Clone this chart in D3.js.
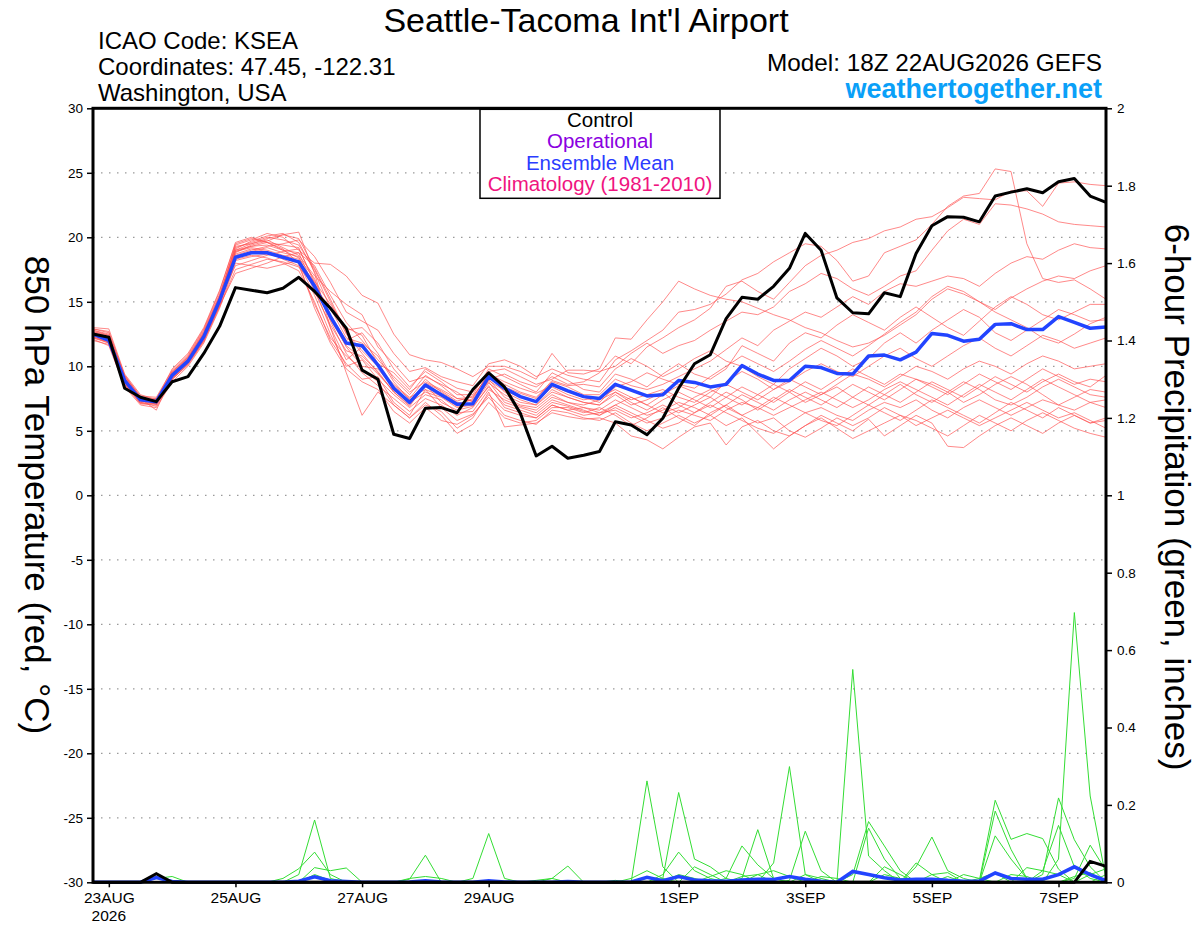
<!DOCTYPE html>
<html>
<head>
<meta charset="utf-8">
<script src="https://d3js.org/d3.v7.min.js"></script>
<style>
body { margin: 0; background: #fff; }
text { font-family: "Liberation Sans", Arial, Helvetica, sans-serif; }
</style>
</head>
<body>
<script>
// run start and 6-hourly steps
var runStart = Date.UTC(2026, 7, 22, 18);
var stepHours = 6;

// 850 hPa temperature (C), control run
var controlTemp = [12.5, 12.25, 8.3, 7.6, 7.26, 8.8, 9.2, 11.0, 13.1, 16.1, 15.9, 15.7, 16.05, 16.9,
  15.8, 14.5, 12.95, 9.7, 9.0, 4.73, 4.4, 6.75, 6.8, 6.4, 8.2, 9.5,
  8.4, 6.35, 3.05, 3.8, 2.87, 3.1, 3.4, 5.7, 5.45, 4.7, 5.97, 8.3, 10.2, 10.9, 13.7, 15.35, 15.2, 16.2, 17.6, 20.3,
  19.0, 15.3, 14.15, 14.07, 15.7, 15.4, 18.75, 20.9, 21.6, 21.55, 21.2, 23.2, 23.5, 23.76, 23.45, 24.3, 24.56, 23.2, 22.7];

// ensemble mean temperature
var meanTemp = [12.5, 12.0, 8.9, 7.4, 7.26, 9.3, 10.4, 12.3, 15.1, 18.45, 18.8, 18.8, 18.45, 18.1,
  16.2, 13.85, 11.8, 11.6, 10.1, 8.3, 7.2, 8.55, 7.8, 7.05, 7.1, 9.2,
  8.3, 7.65, 7.26, 8.6, 8.1, 7.65, 7.5, 8.6, 8.15, 7.7, 7.8, 8.9, 8.75, 8.4, 8.6, 10.05, 9.4, 8.9, 8.9, 10.0,
  9.9, 9.45, 9.4, 10.8, 10.87, 10.5, 11.1, 12.55, 12.4, 11.95, 12.1, 13.25, 13.3, 12.85, 12.85, 13.85, 13.4, 12.95, 13.05];

// ensemble members temperature
var memberTemps = [
  [12.8,12.5,9.2,7.6,7.0,9.6,10.8,12.8,15.6,19.2,19.6,20.0,19.8,19.4, 17.5,15.0,12.5,11.0,9.5,8.0,7.0,8.5,7.8,7.0,7.5,9.5,
   8.6,8.0,7.6,8.8,8.4,7.8,7.8,9.0,8.5,8.2,8.6, 9.2,9.8,10.4,11.3,12.2,11.6,12.8,13.5,14.2,
   13.8,14.6,15.4,14.8,15.8,16.4,16.2,16.6,17.0,16.8,16.2,17.2,18.0,18.5,18.3,19.0,19.5,19.2,19.1],
  [12.3,11.8,8.6,7.2,7.5,9.0,10.2,12.0,14.8,18.9,19.2,19.0,18.6,18.3, 16.0,13.0,10.5,11.5,10.0,8.5,7.5,9.0,8.0,7.2,7.0,9.0,
   7.6,7.0,6.8,7.8,7.2,6.8,6.6,7.4,6.8,6.2,6.6, 7.2,6.8,6.2,7.0,7.8,7.2,6.6,7.4,8.0,
   7.4,6.8,7.6,8.4,7.8,7.2,8.0,8.8,8.2,7.6,8.4,9.2,8.6,8.0,8.8,9.4,8.8,8.4,9.3],
  [12.6,12.2,9.0,7.4,7.2,9.4,10.5,12.4,15.3,19.4,19.8,20.3,20.0,19.0, 18.0,17.9,17.0,15.5,14.9,12.5,10.9,10.5,10.3,9.8,9.2,10.0,
   10.0,9.6,9.0,11.0,9.5,9.4,9.8,12.2,12.1,13.6,15.0, 16.6,16.0,15.5,15.2,15.0,14.5,14.0,13.6,13.0,
   12.6,12.0,11.5,11.8,12.4,13.2,14.0,15.2,16.0,15.6,15.0,14.2,13.6,13.0,12.2,11.8,12.5,13.3,13.8],
  [12.1,11.6,8.4,7.0,6.8,8.8,10.0,11.8,14.5,18.0,17.8,17.6,17.9,18.2, 16.5,14.0,12.0,12.6,11.0,9.0,7.8,9.3,8.5,7.5,7.3,8.8,
   7.2,6.8,6.4,7.4,7.0,6.6,6.2,6.8,6.2,5.6,6.0, 6.6,6.2,5.8,6.6,7.2,6.8,6.2,6.8,7.4,
   8.0,7.4,6.8,7.4,8.2,8.8,8.2,7.6,7.0,7.8,8.6,8.0,7.4,8.2,9.0,8.4,7.8,7.2,7.4],
  [13.0,12.9,9.4,7.8,7.4,9.8,11.0,13.0,15.9,19.5,19.9,19.6,19.0,18.4, 16.8,13.5,11.0,9.5,8.5,7.5,6.5,7.5,7.0,6.2,6.8,8.5,
   6.8,6.4,6.0,7.0,6.6,6.2,6.4,7.0,6.4,5.8,5.2, 5.6,6.4,7.0,6.4,5.8,5.2,4.8,5.6,6.4,
   5.8,5.4,6.2,7.0,6.4,5.8,6.6,7.4,6.8,6.2,5.6,6.4,7.2,6.6,6.0,6.8,6.2,5.6,5.8],
  [12.4,12.0,8.8,7.3,7.3,9.2,10.4,12.2,15.0,18.6,19.0,19.3,19.5,19.8, 18.5,16.5,14.2,13.5,12.8,11.0,9.6,9.9,9.2,8.8,8.5,10.2,
   10.5,10.0,9.2,9.8,9.3,9.0,8.8,10.5,11.2,12.0,12.8, 14.2,14.4,14.8,15.6,16.7,17.2,18.1,18.8,19.5,
   19.3,18.2,16.6,17.0,18.8,19.3,19.8,21.0,22.4,23.2,23.4,25.3,25.1,19.5,16.8,16.5,16.7,16.0,15.2],
  [12.7,12.3,9.1,7.5,6.6,9.3,10.6,12.6,15.4,18.8,19.4,19.7,20.2,20.4, 17.2,13.0,9.5,6.2,8.0,7.0,6.0,7.0,6.5,5.2,6.0,8.0,
   5.3,5.45,5.6,6.4,6.1,5.9,6.0,5.6,4.6,4.3,3.6, 4.5,5.3,5.6,3.9,5.3,5.8,5.0,4.6,5.4,
   6.0,5.2,4.4,5.0,5.6,6.2,5.8,5.2,4.6,5.4,6.2,5.6,5.0,5.8,6.4,5.8,5.2,4.8,4.5],
  [12.2,11.9,8.7,7.1,7.1,9.1,10.3,12.1,14.7,17.2,17.6,18.0,18.5,18.8, 17.8,15.5,13.4,12.0,10.5,9.2,8.0,8.8,8.2,7.5,7.6,9.4,
   8.8,8.3,7.9,8.5,8.0,7.6,7.2,8.4,8.8,9.5,9.0, 8.6,8.3,9.2,10.0,10.8,10.2,9.6,10.4,11.3,
   12.0,11.4,10.8,11.6,12.5,13.4,14.2,15.4,16.2,15.8,15.0,14.4,15.3,16.0,16.6,17.0,16.8,17.4,17.8],
  [12.9,12.6,9.3,7.7,7.6,9.7,10.9,12.9,15.8,19.6,20.0,19.6,19.1,18.0, 15.5,12.5,10.0,10.5,9.0,7.8,6.8,7.8,7.4,6.4,6.5,8.2,
   7.4,6.9,6.6,7.6,7.2,7.0,7.4,8.0,7.2,6.6,7.4, 8.0,7.4,6.8,7.6,8.4,7.8,7.2,8.0,8.8,
   8.2,9.0,9.8,9.2,8.6,9.4,9.0,8.4,7.8,8.6,9.4,8.8,8.2,9.0,9.8,9.2,8.6,9.0,8.8],
  [12.5,12.1,8.9,7.4,7.2,9.3,10.4,12.3,15.1,18.3,18.6,18.4,18.0,17.4, 15.0,12.0,10.2,9.0,9.2,7.2,6.2,8.2,6.8,5.8,6.3,7.6,
   6.2,5.8,5.5,6.6,6.4,6.0,5.8,6.4,5.6,5.0,5.6, 6.2,5.6,6.2,5.4,6.0,4.8,3.6,4.6,5.4,
   6.2,5.6,5.0,5.9,4.6,5.4,6.2,5.6,3.8,3.7,4.6,5.4,6.0,5.4,4.8,5.6,6.2,5.6,6.0],
  [12.3,11.9,8.8,7.2,6.9,9.0,10.1,11.9,14.6,17.5,17.9,18.3,18.1,17.7, 16.2,14.5,12.8,13.0,11.8,9.8,8.4,9.6,8.8,7.8,7.8,9.8,
   9.2,8.6,8.0,9.5,8.9,8.2,8.0,9.4,9.0,8.4,9.4, 10.2,9.4,9.0,9.8,11.6,11.0,10.4,11.8,12.6,
   12.2,13.2,14.0,13.4,12.8,13.8,14.6,13.8,13.0,12.4,13.5,14.6,15.4,14.8,14.0,13.6,14.2,14.8,14.8],
  [12.8,12.4,9.2,7.6,7.5,9.6,10.7,12.7,15.5,19.3,19.5,19.8,19.2,18.6, 17.0,15.8,14.8,14.0,11.5,10.2,8.8,9.2,8.6,8.0,7.2,9.0,
   9.4,8.8,8.4,9.2,8.6,8.8,9.5,10.8,10.2,11.5,12.2, 13.0,13.6,14.5,16.2,16.6,15.8,15.2,16.5,17.8,
   18.6,19.0,19.6,19.9,20.5,20.8,21.4,21.6,22.3,23.1,23.0,22.9,23.6,23.6,22.4,24.2,24.3,24.1,24.0],
  [12.6,12.2,9.0,7.5,7.3,9.4,10.6,12.5,15.3,19.0,19.3,19.4,19.0,18.8, 16.0,13.8,11.5,10.0,9.8,8.3,7.2,8.0,7.6,6.8,7.0,8.7,
   7.8,7.2,7.0,8.0,7.6,7.2,7.0,7.8,7.0,7.4,8.0, 7.0,6.4,7.2,8.0,7.4,6.6,7.4,8.2,7.6,
   7.0,7.8,8.6,8.0,7.4,8.2,9.0,8.6,8.0,7.2,7.8,8.6,9.2,8.6,7.8,7.0,7.6,8.2,8.0],
  [12.0,11.7,8.5,7.1,7.0,9.0,10.2,12.0,14.9,18.7,19.1,18.9,18.3,17.8, 14.8,12.2,10.8,9.8,8.8,7.0,6.0,7.2,6.2,4.8,5.5,7.2,
   6.0,5.6,5.8,6.8,6.8,6.4,6.8,6.2,5.4,6.0,6.8, 6.0,5.4,6.4,7.0,6.2,5.6,6.0,5.0,4.5,
   5.2,6.0,5.4,6.0,6.8,6.2,5.4,6.0,6.6,6.0,5.4,6.0,6.6,7.2,6.6,6.0,6.4,5.8,5.2],
  [12.7,12.4,9.1,7.5,7.4,9.5,10.7,12.6,15.4,19.1,19.7,20.1,20.3,19.6, 17.3,14.5,12.2,11.8,10.8,8.8,7.4,8.4,7.9,7.1,7.4,9.2,
   8.4,7.9,7.5,8.9,8.5,8.6,8.4,9.8,10.6,10.0,9.2, 9.8,10.6,11.2,10.4,10.0,9.2,8.6,9.8,10.6,
   11.4,10.8,10.0,10.6,11.8,12.6,11.8,12.8,13.6,14.4,13.8,12.6,12.0,12.8,13.6,14.4,14.0,13.5,13.6],
  [12.4,12.0,8.7,7.3,7.1,9.1,10.3,12.1,14.8,18.4,18.9,19.2,18.8,18.5, 15.8,13.2,11.2,10.8,9.6,8.0,6.9,8.6,7.2,6.6,6.9,8.4,
   7.0,6.6,6.2,7.2,6.9,6.5,6.2,7.0,7.6,7.0,6.4, 6.8,7.6,8.2,7.6,7.0,7.8,8.6,8.0,7.2,
   7.8,8.4,7.6,7.0,7.8,8.6,7.8,7.2,8.0,8.8,8.2,7.4,7.0,7.6,8.4,9.0,8.4,7.8,7.6],
  [12.9,12.7,9.3,7.6,7.3,9.5,10.6,12.5,15.2,17.8,18.2,18.6,18.9,19.1, 16.6,14.8,13.0,12.4,10.2,9.5,8.2,9.8,9.0,8.3,8.0,9.6,
   9.8,9.2,8.6,9.0,9.7,9.7,9.6,10.0,11.0,11.8,11.0, 11.6,12.0,12.8,13.5,14.2,14.0,14.6,15.8,16.4,
   17.2,16.8,16.0,15.5,16.2,17.0,17.4,19.0,20.5,21.4,21.0,22.6,22.5,22.2,21.8,21.2,21.0,20.9,20.8],
  [12.5,12.1,8.9,7.4,7.2,9.2,10.4,12.2,15.0,19.0,19.5,19.9,20.2,19.9, 17.6,15.2,12.6,11.2,10.0,8.6,7.6,8.2,7.7,6.9,7.1,8.9,
   8.1,7.6,7.2,8.4,7.8,7.4,7.6,8.2,7.6,7.0,7.8, 8.5,8.0,7.6,8.8,9.6,9.0,8.2,8.8,9.6,
   10.2,9.6,9.2,10.0,10.8,11.4,10.6,10.0,10.8,11.6,12.2,11.4,10.8,11.6,12.4,12.0,11.4,11.8,12.2],
  [12.2,11.8,8.6,7.2,7.1,9.0,10.2,12.0,14.7,18.2,18.5,18.7,18.4,18.0, 14.5,11.8,9.8,8.8,8.2,6.5,5.6,6.8,5.8,5.5,6.2,7.8,
   6.6,6.2,6.0,7.0,6.6,6.8,6.4,6.6,6.0,6.4,7.0, 6.4,7.0,7.6,6.8,6.2,6.8,7.6,7.0,6.4,
   6.8,6.2,5.8,6.6,7.2,6.8,7.4,6.6,6.0,6.8,7.4,6.8,6.2,6.8,7.4,7.0,6.6,7.2,6.8],
  [12.6,12.3,9.0,7.4,7.3,9.4,10.5,12.4,15.2,18.9,19.3,19.6,19.4,19.2, 16.4,13.6,11.6,10.6,9.4,8.1,7.3,8.7,8.1,7.3,7.7,9.3,
   8.0,7.4,7.0,8.2,7.6,7.2,7.0,8.0,7.4,7.8,8.2, 7.6,7.2,8.0,8.6,8.0,7.4,8.2,9.0,8.4,
   7.8,8.6,9.4,9.0,8.4,9.2,10.0,9.6,9.0,9.8,10.4,10.0,9.4,10.2,10.8,10.4,9.8,10.0,10.2]
];

// 6-hour precipitation (inches)
var controlPrecip = [0, 0,0,0,.022, 0,0,0,0, 0,0,0,0, 0,0,0,0, 0,0,0,0, 0,0,0,0, 0,0,0,0, 0,0,0,0, 0,0,0,0,
  0,0,0,0, 0,0,0,0, 0,0,0,0, 0,0,0,0, 0,0,0,0, 0,0,0,0, 0,0,.054,.041];
var meanPrecip = [0, 0,0,0,.012, .002,0,0,0, 0,0,0,0, .003,.014,.004,.002, 0,0,0,.001, .004,.001,0,0, .004,.001,0,0,
  0,.002,0,0, 0,.001,.013,.004, .015,.006,.004,.003, .006,.008,.007,.015, .008,.003,0,.028, .02,.012,.006,.008,
  .008,.005,.003,.003, .024,.01,.008,.008, .02,.04,.02,.004];
var memberPrecip = [
  [0, 0,0,0,.01, .015,0,0,0, 0,0,0,0, .02,.161,.01,0, 0,0,0,0, 0,0,0,0, 0,0,0,0, 0,0,0,0, 0,0,0,0, 0,0,0,0, 0,0,0,0, 0,0,0,.55, .068,.03,0,0, 0,0,0,0, 0,0,0,0, 0,0,0,0],
  [0, 0,0,0,0, 0,0,0,0, 0,0,0,.01, .035,.078,.02,0, 0,0,0,0, 0,0,0,0, 0,0,0,0, 0,0,0,0, 0,0,.262,.04, 0,0,0,0, 0,0,0,0, 0,0,0,0, 0,0,0,0, 0,0,0,0, 0,0,0,0, .06,.697,.223,.01],
  [0, 0,0,0,0, 0,0,0,0, 0,0,0,0, 0,.038,.03,.037, 0,0,0,0, 0,0,0,0, 0,0,0,0, 0,0,0,0, 0,0,0,.01, .232,.06,.04,.01, 0,0,0,0, 0,0,0,0, 0,0,0,0, 0,0,0,0, 0,0,0,0, 0,0,0,0],
  [0, 0,0,0,0, 0,0,0,0, 0,0,0,0, 0,.02,.005,0, 0,0,0,0, 0,0,0,.01, .126,.01,0,0, 0,0,0,0, 0,0,0,0, 0,0,0,0, 0,0,.05,.299, .02,0,0,0, 0,0,0,0, 0,0,0,0, 0,0,0,0, 0,0,0,0],
  [0, 0,0,0,0, 0,0,0,0, 0,0,0,0, 0,0,0,0, 0,0,0,.008, .07,0,0,0, 0,0,0,0, 0,0,0,0, 0,0,0,0, 0,0,0,0, 0,0,0,0, 0,0,0,0, 0,.04,.02,0, 0,0,0,.005, .212,.111,.126,.113, .034,0,0,0],
  [0, 0,0,0,0, 0,0,0,0, 0,0,0,0, 0,0,0,0, 0,0,0,.01, .015,.01,0,0, 0,0,0,0, .01,.042,0,0, 0,0,0,0, 0,0,0,0, 0,0,0,0, 0,0,0,0, 0,0,0,.05, .02,0,0,0, 0,0,0,.02, .218,.11,.04,0],
  [0, 0,0,0,0, 0,0,0,0, 0,0,0,0, 0,0,0,0, 0,0,0,0, 0,0,0,0, 0,0,0,0, 0,0,0,0, 0,0,0,.02, .078,.03,.01,0, 0,0,0,0, 0,0,0,0, 0,0,0,.04, .117,.03,.01,0, 0,0,0,0, 0,0,0,0],
  [0, 0,0,0,0, 0,0,0,0, 0,0,0,0, 0,0,0,0, 0,0,0,0, 0,0,0,0, 0,0,0,0, 0,0,0,0, 0,0,0,0, 0,0,0,.01, .094,.045,.01,0, 0,0,0,0, 0,0,0,0, 0,0,0,0, .184,.085,.01,0, 0,0,0,0],
  [0, 0,0,0,0, 0,0,0,0, 0,0,0,0, 0,0,0,0, 0,0,0,0, 0,0,0,0, 0,0,0,0, 0,0,0,0, 0,0,0,0, 0,0,0,0, .01,.136,.01,0, 0,0,0,.02, .157,.094,.03,0, 0,0,0,0, 0,0,0,0, 0,.01,.096,.03],
  [0, 0,0,0,0, 0,0,0,0, 0,0,0,0, 0,0,0,0, 0,0,0,0, 0,0,0,0, 0,0,0,0, 0,0,0,0, 0,0,0,0, 0,0,0,0, 0,0,0,.005, .132,.03,0,0, 0,0,0,0, 0,0,0,0, .12,.06,.01,0, 0,0,0,0],
  [0, 0,0,0,0, 0,0,0,0, 0,0,0,0, 0,0,0,0, 0,0,0,0, 0,0,0,0, 0,0,0,0, 0,0,0,0, 0,0,0,0, 0,0,0,0, 0,0,0,0, 0,0,0,0, .14,.06,.01,0, 0,0,0,0, 0,0,0,.03, .147,.04,.01,0],
  [0, 0,0,0,0, 0,0,0,0, 0,0,0,0, 0,0,0,0, 0,0,0,0, 0,0,0,0, 0,0,0,0, 0,0,0,0, 0,0,0,0, 0,.04,.02,0, 0,0,0,0, 0,0,0,0, 0,0,0,0, 0,0,0,0, 0,0,.038,.03, .02,0,0,0],
  [0, 0,0,0,0, 0,0,0,0, 0,0,0,0, 0,0,0,0, 0,0,0,0, 0,0,0,0, 0,0,0,0, 0,0,0,0, 0,0,0,0, 0,0,0,0, 0,.02,.03,.015, 0,0,0,0, 0,0,0,0, .02,.025,0,0, 0,0,0,0, 0,0,0,0],
  [0, 0,0,0,0, 0,0,0,0, 0,0,0,0, 0,0,0,0, 0,0,0,0, 0,0,0,0, 0,0,0,0, 0,0,0,0, 0,.01,.03,.01, 0,0,0,0, 0,0,0,0, 0,0,0,0, 0,0,0,0, 0,0,0,0, 0,0,0,0, 0,0,.02,.035],
  [0, 0,0,0,0, 0,0,0,0, 0,0,0,0, 0,0,0,0, 0,0,0,0, 0,0,0,0, 0,0,0,0, 0,0,0,0, 0,0,0,0, 0,0,.015,.03, .02,0,0,0, 0,0,0,0, 0,0,0,0, 0,0,.02,.01, 0,0,0,0, 0,0,0,0],
  [0, 0,0,0,0, 0,0,0,0, 0,0,0,0, 0,0,0,0, 0,0,0,0, 0,0,0,0, 0,0,0,0, 0,0,0,0, 0,0,0,0, 0,0,0,0, 0,0,0,0, 0,.015,.01,0, 0,0,0,0, 0,0,0,0, 0,.02,.015,0, 0,0,0,0],
  [0, 0,0,0,0, 0,0,0,0, 0,0,0,0, 0,0,0,0, 0,0,0,0, 0,0,0,0, 0,0,0,.005, .01,0,0,0, 0,0,0,0, 0,0,0,0, 0,0,0,0, .02,.01,0,0, 0,0,0,0, 0,0,0,0, 0,0,0,0, 0,0,0,.02],
  [0, 0,0,0,0, 0,0,0,0, 0,0,0,0, 0,0,0,0, 0,0,0,0, 0,0,0,0, 0,0,0,0, 0,0,0,0, .005,0,0,0, .02,.01,0,0, 0,0,0,0, 0,0,0,0, 0,0,0,0, 0,.015,0,0, 0,0,0,0, 0,0,0,0],
  [0, 0,0,0,0, 0,0,0,0, 0,0,0,0, 0,0,0,0, 0,0,0,0, 0,0,0,0, 0,0,0,0, 0,0,0,0, 0,0,0,0, 0,0,0,0, 0,0,0,0, 0,0,0,0, 0,.02,.01,0, 0,0,0,0, 0,0,0,0, 0,.015,.025,0],
  [0, 0,0,0,0, 0,0,0,0, 0,0,0,0, 0,0,0,0, 0,0,0,0, 0,0,0,0, 0,0,0,0, 0,0,0,0, 0,0,0,0, 0,0,0,0, .015,.02,0,0, 0,0,0,0, 0,0,0,0, 0,0,0,.01, .025,0,0,0, 0,0,0,0]
];

// axis ticks and labels
var tempTicks = [30, 25, 20, 15, 10, 5, 0, -5, -10, -15, -20, -25, -30];
var precipTicks = [2, 1.8, 1.6, 1.4, 1.2, 1, 0.8, 0.6, 0.4, 0.2, 0];
var dayTickDates = [Date.UTC(2026,7,23), Date.UTC(2026,7,25), Date.UTC(2026,7,27), Date.UTC(2026,7,29),
                    Date.UTC(2026,8,1), Date.UTC(2026,8,3), Date.UTC(2026,8,5), Date.UTC(2026,8,7)];
var dayTickLabels = ["23AUG", "25AUG", "27AUG", "29AUG", "1SEP", "3SEP", "5SEP", "7SEP"];
var legendLabels = ["Control", "Operational", "Ensemble Mean", "Climatology (1981-2010)"];
var legendColors = ["#000000", "#8a00e0", "#2a3cff", "#f0147f"];

var w = 1200;
var h = 927;
var plotL = 93, plotR = 1106, plotT = 108.3, plotB = 882.3;

var svg = d3.select("body")
            .append("svg")
            .attr("width", w)
            .attr("height", h);

var times = controlTemp.map(function(d, i) {
  return new Date(runStart + i * stepHours * 3600 * 1000);
});

var xScale = d3.scaleUtc()
               .domain([times[0], times[times.length - 1]])
               .range([plotL, plotR]);
var yTemp = d3.scaleLinear().domain([-30, 30]).range([plotB, plotT]);
var yPrecip = d3.scaleLinear().domain([0, 2]).range([plotB, plotT]);

svg.append("clipPath")
   .attr("id", "plotclip")
   .append("rect")
   .attr("x", plotL)
   .attr("y", plotT)
   .attr("width", plotR - plotL)
   .attr("height", plotB - plotT + 2);

// dotted grid
svg.selectAll("line.grid")
   .data(tempTicks.filter(function(d) { return d > -30 && d < 30; }))
   .enter()
   .append("line")
   .attr("class", "grid")
   .attr("x1", plotL)
   .attr("x2", plotR)
   .attr("y1", function(d) { return yTemp(d); })
   .attr("y2", function(d) { return yTemp(d); })
   .attr("stroke", "#9a9a9a")
   .attr("stroke-width", 1.2)
   .attr("stroke-dasharray", "1.5,6.5");

var plot = svg.append("g").attr("clip-path", "url(#plotclip)");

var tempLine = d3.line()
                 .x(function(d, i) { return xScale(times[i]); })
                 .y(function(d) { return yTemp(d); });
var precipLine = d3.line()
                   .x(function(d, i) { return xScale(times[i]); })
                   .y(function(d) { return yPrecip(d); });

plot.selectAll("path.member")
    .data(memberTemps)
    .enter()
    .append("path")
    .attr("class", "member")
    .attr("d", tempLine)
    .attr("fill", "none")
    .attr("stroke", "#ff5050")
    .attr("stroke-opacity", 0.8)
    .attr("stroke-width", 0.85);

plot.selectAll("path.rain")
    .data(memberPrecip)
    .enter()
    .append("path")
    .attr("class", "rain")
    .attr("d", precipLine)
    .attr("fill", "none")
    .attr("stroke", "#33dd33")
    .attr("stroke-width", 1);

plot.append("path")
    .attr("d", precipLine(meanPrecip))
    .attr("fill", "none")
    .attr("stroke", "#2244ff")
    .attr("stroke-width", 3.5);

plot.append("path")
    .attr("d", precipLine(controlPrecip))
    .attr("fill", "none")
    .attr("stroke", "#000")
    .attr("stroke-width", 3);

plot.append("path")
    .attr("d", tempLine(meanTemp))
    .attr("fill", "none")
    .attr("stroke", "#2244ff")
    .attr("stroke-width", 3.5)
    .attr("stroke-linejoin", "round");

plot.append("path")
    .attr("d", tempLine(controlTemp))
    .attr("fill", "none")
    .attr("stroke", "#000")
    .attr("stroke-width", 3)
    .attr("stroke-linejoin", "round");

// frame
svg.append("rect")
   .attr("x", plotL)
   .attr("y", plotT)
   .attr("width", plotR - plotL)
   .attr("height", plotB - plotT)
   .attr("fill", "none")
   .attr("stroke", "#000")
   .attr("stroke-width", 3);

// axes
var yAxisL = svg.append("g")
   .attr("transform", "translate(" + plotL + ",0)")
   .call(d3.axisLeft(yTemp).tickValues(tempTicks).tickSize(6).tickPadding(4)
           .tickFormat(function(d) { return String(d); }));
var yAxisR = svg.append("g")
   .attr("transform", "translate(" + plotR + ",0)")
   .call(d3.axisRight(yPrecip).tickValues(precipTicks).tickSize(6).tickPadding(5)
           .tickFormat(function(d) { return String(d); }));
var xAxis = svg.append("g")
   .attr("transform", "translate(0," + plotB + ")")
   .call(d3.axisBottom(xScale).tickValues(dayTickDates.map(function(d) { return new Date(d); }))
           .tickSize(5).tickPadding(5)
           .tickFormat(function(d, i) { return dayTickLabels[i]; }));

[yAxisL, yAxisR, xAxis].forEach(function(g) {
  g.select(".domain").remove();
  g.selectAll("line").attr("stroke", "#000").attr("stroke-width", 1.5);
  g.selectAll("text")
   .attr("font-family", "'Liberation Sans', Arial, sans-serif")
   .attr("fill", "#000");
});
yAxisL.selectAll("text").attr("font-size", "13.5px");
yAxisR.selectAll("text").attr("font-size", "13.5px");
xAxis.selectAll("text").attr("font-size", "15.5px");

svg.append("text")
   .text("2026")
   .attr("x", xScale(new Date(dayTickDates[0])))
   .attr("y", 921)
   .attr("text-anchor", "middle")
   .attr("font-size", "15.5px");

// axis titles
svg.append("text")
   .text("850 hPa Temperature (red, \u00B0C)")
   .attr("transform", "translate(25,495) rotate(90)")
   .attr("text-anchor", "middle")
   .attr("font-size", "35px");
svg.append("text")
   .text("6-hour Precipitation (green, inches)")
   .attr("transform", "translate(1165,497) rotate(90)")
   .attr("text-anchor", "middle")
   .attr("font-size", "35px");

// header
svg.append("text")
   .text("Seattle-Tacoma Int'l Airport")
   .attr("x", 586)
   .attr("y", 32)
   .attr("text-anchor", "middle")
   .attr("font-size", "34px");

var headerLeft = ["ICAO Code: KSEA", "Coordinates: 47.45, -122.31", "Washington, USA"];
svg.selectAll("text.hdr")
   .data(headerLeft)
   .enter()
   .append("text")
   .attr("class", "hdr")
   .text(function(d) { return d; })
   .attr("x", 98)
   .attr("y", function(d, i) { return 49 + i * 26; })
   .attr("font-size", "24px");

svg.append("text")
   .text("Model: 18Z 22AUG2026 GEFS")
   .attr("x", 1102)
   .attr("y", 71)
   .attr("text-anchor", "end")
   .attr("font-size", "24.3px");
svg.append("text")
   .text("weathertogether.net")
   .attr("x", 1102)
   .attr("y", 98)
   .attr("text-anchor", "end")
   .attr("font-size", "27px")
   .attr("font-weight", "bold")
   .attr("fill", "#0aa0f8");

// legend
svg.append("rect")
   .attr("x", 480)
   .attr("y", 109.3)
   .attr("width", 240)
   .attr("height", 89)
   .attr("fill", "#fff")
   .attr("stroke", "#000")
   .attr("stroke-width", 1.5);

svg.selectAll("text.leg")
   .data(legendLabels)
   .enter()
   .append("text")
   .attr("class", "leg")
   .text(function(d) { return d; })
   .attr("x", 600)
   .attr("y", function(d, i) { return 127 + i * 21.3; })
   .attr("text-anchor", "middle")
   .attr("font-size", "20.5px")
   .attr("fill", function(d, i) { return legendColors[i]; });
</script>
</body>
</html>
